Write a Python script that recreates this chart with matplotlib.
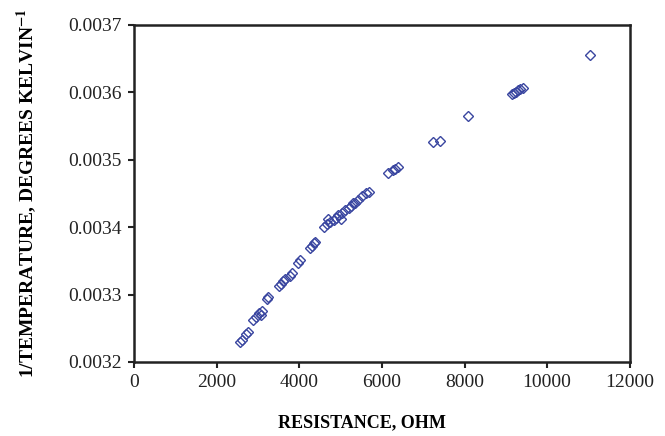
"""
Resistance vs 1/T calibration scatter (thermistor).
Saves out.png
"""
import matplotlib
matplotlib.use("Agg")
import matplotlib.pyplot as plt

# values
resistance = [2560, 2620, 2710, 2750, 2880, 2960, 3030, 3080, 3100, 3230,
              3250, 3520, 3560, 3610, 3650, 3770, 3830, 3960, 4020, 4260,
              4300, 4350, 4380, 4600, 4670, 4700, 4750, 4830, 4900, 4950,
              5000, 5040, 5110, 5200, 5260, 5300, 5350, 5420, 5520, 5610,
              5700, 6150, 6270, 6320, 6390, 7230, 7410, 8080, 9150, 9200,
              9250, 9300, 9350, 9420, 11040]
inv_temp = [0.003230, 0.003233, 0.003242, 0.003245, 0.003262, 0.003266,
            0.003273, 0.003270, 0.003276, 0.003293, 0.003296, 0.003313,
            0.003316, 0.003320, 0.003323, 0.003328, 0.003332, 0.003347,
            0.003351, 0.003369, 0.003372, 0.003376, 0.003378, 0.003400,
            0.003405, 0.003412, 0.003407, 0.003410, 0.003413, 0.003418,
            0.003412, 0.003421, 0.003425, 0.003429, 0.003432, 0.003436,
            0.003436, 0.003440, 0.003446, 0.003450, 0.003452, 0.003481,
            0.003485, 0.003487, 0.003489, 0.003526, 0.003528, 0.003565,
            0.003597, 0.003599, 0.003601, 0.003603, 0.003605, 0.003607,
            0.003656]

x_ticks = [0, 2000, 4000, 6000, 8000, 10000, 12000]
y_ticks = [0.0032, 0.0033, 0.0034, 0.0035, 0.0036, 0.0037]

plt.rcParams["font.family"] = ["Liberation Serif", "DejaVu Serif"]
plt.rcParams["mathtext.fontset"] = "stix"

fig = plt.figure(figsize=(6.65, 4.36), dpi=100)
ax = fig.add_axes([0.2015, 0.170, 0.7455, 0.7727])

ax.plot(resistance, inv_temp, linestyle="none", marker="D", markersize=5.5,
        markerfacecolor="none", markeredgecolor="#3a46a0", markeredgewidth=1.0)

ax.set_xlim(0, 12000)
ax.set_ylim(0.0032, 0.0037)
ax.set_xticks(x_ticks)
ax.set_yticks(y_ticks)
ax.set_xticklabels([str(t) for t in x_ticks])
ax.set_yticklabels([f"{t:.4f}" for t in y_ticks])
ax.tick_params(direction="out", length=4, width=1.5, labelsize=14,
               colors="#222222", pad=5)
for s in ax.spines.values():
    s.set_linewidth(1.8)
    s.set_color("#222222")

ax.set_xlabel("RESISTANCE, OHM", fontsize=13, fontweight="bold")
ax.xaxis.set_label_coords(0.46, -0.155)
ax.set_ylabel(r"1/TEMPERATURE, DEGREES KELVIN$^{\mathbf{-1}}$", fontsize=14,
              fontweight="bold", labelpad=21)

fig.savefig("out.png", dpi=100)
